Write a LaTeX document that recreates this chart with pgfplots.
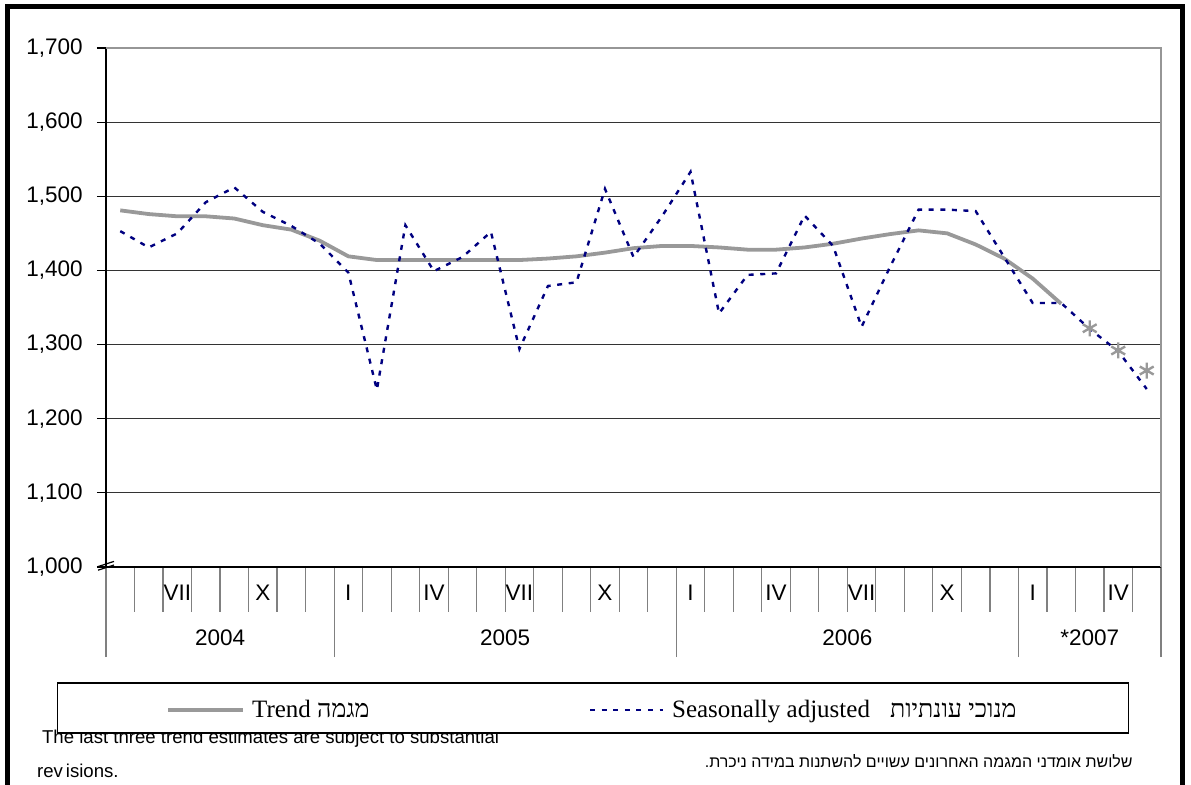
\documentclass[border=0pt]{standalone}
\usepackage{fontspec}
\usepackage{pgfplots}
\usepackage{pgfplotstable}
\pgfplotsset{compat=1.18}
\setmainfont{Liberation Sans}
\newfontfamily\serif{Liberation Serif}
\newfontfamily\hebsans[Script=Hebrew]{Liberation Sans}
\newfontfamily\hebserif[Script=Hebrew]{Liberation Serif}
\TeXXeTstate=1
\definecolor{trendgray}{RGB}{153,153,153}
\definecolor{navyblue}{RGB}{0,0,128}
\definecolor{tickgray}{RGB}{128,128,128}
\definecolor{bordergray}{RGB}{150,150,150}
\newcommand\lbl{\fontsize{11.25}{13}\selectfont}

% month index: 0 = May 2004 ... 36 = May 2007
\pgfplotstableread{
m v
0 1481
1 1476
2 1473
3 1473
4 1470
5 1461
6 1455
7 1440
8 1419
9 1414
10 1414
11 1414
12 1414
13 1414
14 1414
15 1416
16 1419
17 1424
18 1430
19 1433
20 1433
21 1431
22 1428
23 1428
24 1431
25 1436
26 1443
27 1449
28 1454
29 1450
30 1435
31 1416
32 1389
33 1355
}\trend

\pgfplotstableread{
m v
34 1322
35 1292
36 1265
}\trendest

\pgfplotstableread{
m v
0 1453
1 1431
2 1450
3 1492
4 1512
5 1479
6 1460
7 1436
8 1397
9 1239
10 1461
11 1399
12 1418
13 1452
14 1294
15 1379
16 1384
17 1510
18 1418
19 1473
20 1533
21 1342
22 1394
23 1396
24 1474
25 1433
26 1324
27 1405
28 1482
29 1482
30 1480
31 1418
32 1356
33 1356
34 1321
35 1291
36 1240
}\sa

\begin{document}
\begin{tikzpicture}[x=0.5pt,y=-0.5pt]
\useasboundingbox (0,0) rectangle (1191,785);

% category axis (month and year separators, labels)
\begin{axis}[
  at={(53pt,-283.5pt)}, anchor=south west,
  scale only axis, width=527.5pt, height=259.5pt,
  xmin=-0.5, xmax=36.5, ymin=1000, ymax=1700,
  hide y axis,
  axis x line*=bottom,
  x axis line style={draw=none},
  tick align=outside,
  xtick={-0.5,0.5,...,36.5},
  xticklabels={},
  major tick length=22.5pt,
  xtick style={tickgray, line width=0.6pt},
  extra x ticks={-0.5,7.5,19.5,31.5,36.5},
  extra x tick labels={},
  extra x tick style={major tick length=45pt, grid=none},
  clip=false,
]
% month labels
\path (axis cs:2,1000)  node[anchor=base, yshift=-17pt, font=\lbl] {VII};
\path (axis cs:5,1000)  node[anchor=base, yshift=-17pt, font=\lbl] {X};
\path (axis cs:8,1000)  node[anchor=base, yshift=-17pt, font=\lbl] {I};
\path (axis cs:11,1000) node[anchor=base, yshift=-17pt, font=\lbl] {IV};
\path (axis cs:14,1000) node[anchor=base, yshift=-17pt, font=\lbl] {VII};
\path (axis cs:17,1000) node[anchor=base, yshift=-17pt, font=\lbl] {X};
\path (axis cs:20,1000) node[anchor=base, yshift=-17pt, font=\lbl] {I};
\path (axis cs:23,1000) node[anchor=base, yshift=-17pt, font=\lbl] {IV};
\path (axis cs:26,1000) node[anchor=base, yshift=-17pt, font=\lbl] {VII};
\path (axis cs:29,1000) node[anchor=base, yshift=-17pt, font=\lbl] {X};
\path (axis cs:32,1000) node[anchor=base, yshift=-17pt, font=\lbl] {I};
\path (axis cs:35,1000) node[anchor=base, yshift=-17pt, font=\lbl] {IV};
% year labels
\path (axis cs:3.5,1000)  node[anchor=base, yshift=-39.5pt, font=\lbl] {2004};
\path (axis cs:13.5,1000) node[anchor=base, yshift=-39.5pt, font=\lbl] {2005};
\path (axis cs:25.5,1000) node[anchor=base, yshift=-39.5pt, font=\lbl] {2006};
\path (axis cs:34,1000)   node[anchor=base, yshift=-39.5pt, font=\lbl] {*2007};
\end{axis}

% main data axis
\begin{axis}[
  at={(53pt,-283.5pt)}, anchor=south west,
  scale only axis, width=527.5pt, height=259.5pt,
  xmin=-0.5, xmax=36.5, ymin=1000, ymax=1700,
  axis x line*=bottom, axis y line*=left,
  x axis line style={-, black, line width=0.7pt},
  y axis line style={-, black, line width=1.1pt},
  ytick={1000,1100,...,1700},
  scaled y ticks=false,
  /pgf/number format/1000 sep={,},
  /pgf/number format/assume math mode=true,
  yticklabel style={font=\lbl, anchor=east, inner sep=0pt, xshift=-7pt},
  ymajorgrids, grid style={black!80, line width=0.5pt},
  tick align=outside,
  major tick length=4.5pt,
  ytick style={black, line width=0.6pt},
  xtick=\empty,
  clip=false,
]
\addplot[trendgray, line width=1.9pt] table[x=m,y=v]{\trend};
\addplot[navyblue, line width=1.2pt, dash pattern=on 2.5pt off 3.3pt] table[x=m,y=v]{\sa};
\addplot[trendgray, only marks, mark=asterisk, mark size=4pt, mark options={line width=1.2pt}] table[x=m,y=v]{\trendest};

\draw[bordergray, line width=1pt] (rel axis cs:0,1) -- (rel axis cs:1,1) -- (rel axis cs:1,0);

% axis break
\draw[black, line width=0.6pt] ([xshift=-4pt,yshift=-1.6pt]axis cs:-0.5,1000) -- ++(8pt,2.6pt);
\draw[black, line width=0.6pt] ([xshift=-4pt,yshift=0.2pt]axis cs:-0.5,1000) -- ++(8pt,2.6pt);
\end{axis}

% outer frame
\draw[black, line width=2.25pt] (7.5,800) -- (7.5,6.5) -- (1182.5,6.5) -- (1182.5,800);

% footnotes
\node[anchor=base west, inner sep=0pt, font=\fontsize{9.3}{11}\selectfont] at (41.7,744) {The last three trend estimates are subject to substantial};
\node[anchor=base west, inner sep=0pt, font=\fontsize{9.3}{11}\selectfont] at (36.7,778) {rev\kern1.5pt isions.};
\node[anchor=base east, inner sep=0pt, font=\hebsans\fontsize{8}{10}\selectfont] at (1133,768) {\beginR שלושת אומדני המגמה האחרונים עשויים להשתנות במידה ניכרת.\endR};

% legend
\draw[black, line width=0.8pt, fill=white] (57.3,683.3) rectangle (1128.3,733.3);
\draw[trendgray, line width=1.9pt] (168,710) -- (243,710);
\node[anchor=base west, inner sep=0pt, font=\serif\fontsize{12.5}{14}\selectfont] at (251.7,717.7) {Trend {\hebserif\beginR מגמה\endR}};
\draw[navyblue, line width=1.2pt, dash pattern=on 2.5pt off 3.3pt] (590,710) -- (663,710);
\node[anchor=base west, inner sep=0pt, font=\serif\fontsize{12.5}{14}\selectfont] at (671.7,717.7) {Seasonally adjusted\hspace{10pt}{\hebserif\beginR מנוכי עונתיות\endR}};
\end{tikzpicture}
\end{document}
